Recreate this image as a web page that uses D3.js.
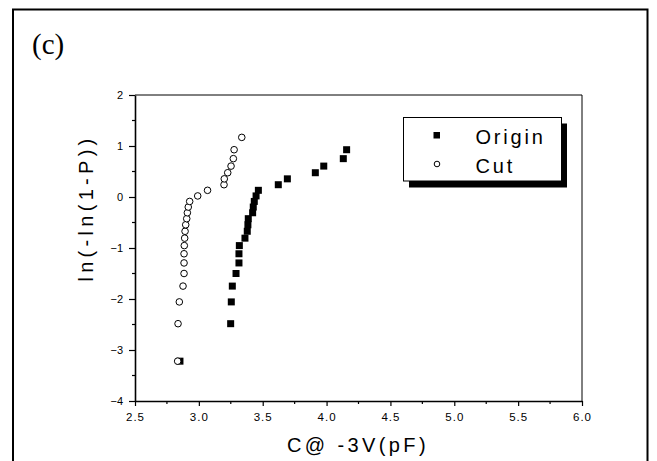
<!DOCTYPE html>
<html>
<head>
<meta charset="utf-8">
<script src="https://cdn.jsdelivr.net/npm/d3@7"></script>
<style>
  html, body { margin: 0; padding: 0; background: #fff; }
  svg { display: block; }
</style>
</head>
<body>
<svg id="chart" width="657" height="461"></svg>
<script>
// Weibull plot of capacitance at -3 V: ln(-ln(1-P)) versus C (pF)
const xTicks = [2.5, 3.0, 3.5, 4.0, 4.5, 5.0, 5.5, 6.0];
const yTicks = [-4, -3, -2, -1, 0, 1, 2];

// Origin samples (filled squares)
const originC = [2.852, 3.249, 3.254, 3.262, 3.291, 3.314, 3.314, 3.317, 3.361, 3.379,
                 3.384, 3.387, 3.421, 3.426, 3.434, 3.448, 3.466, 3.622, 3.693, 3.912,
                 3.978, 4.131, 4.157];
const originW = [-3.219, -2.484, -2.057, -1.747, -1.500, -1.293, -1.113, -0.953, -0.807, -0.672,
                 -0.545, -0.425, -0.309, -0.197, -0.087, 0.021, 0.131, 0.241, 0.356, 0.476,
                 0.606, 0.752, 0.927];

// Cut samples (open circles)
const cutC = [2.834, 2.837, 2.847, 2.876, 2.884, 2.884, 2.884, 2.886, 2.889, 2.892,
              2.897, 2.905, 2.910, 2.917, 2.928, 2.991, 3.068, 3.197, 3.199, 3.226,
              3.252, 3.270, 3.276, 3.336];
const cutW = [-3.219, -2.484, -2.057, -1.747, -1.500, -1.293, -1.113, -0.953, -0.807, -0.672,
              -0.545, -0.425, -0.309, -0.197, -0.087, 0.021, 0.131, 0.241, 0.356, 0.476,
              0.606, 0.752, 0.927, 1.169];

const seriesNames = ["Origin", "Cut"];

const svg = d3.select("#chart");
const plotL = 135, plotR = 582, plotT = 95, plotB = 401;

const x = d3.scaleLinear().domain([2.5, 6.0]).range([plotL, plotR]);
const y = d3.scaleLinear().domain([-4, 2]).range([plotB, plotT]);

// outer panel border
svg.append("rect")
  .attr("x", 13).attr("y", 9.5)
  .attr("width", 634.5).attr("height", 470)
  .attr("fill", "none").attr("stroke", "#000").attr("stroke-width", 2);

// panel tag
svg.append("text")
  .attr("x", 32).attr("y", 54)
  .attr("font-family", "'Liberation Serif', 'Times New Roman', serif")
  .attr("font-size", 29)
  .attr("fill", "#000")
  .text("(c)");

// plot frame (top and right)
svg.append("line").attr("x1", plotL).attr("x2", plotR).attr("y1", plotT).attr("y2", plotT)
  .attr("stroke", "#000").attr("stroke-width", 1);
svg.append("line").attr("x1", plotR).attr("x2", plotR).attr("y1", plotT).attr("y2", plotB)
  .attr("stroke", "#000").attr("stroke-width", 1);

const font = "'Liberation Sans', Arial, sans-serif";

// x axis
const xMinor = d3.range(2.75, 6.0, 0.5);
const gx = svg.append("g").attr("transform", `translate(0,${plotB})`)
  .call(d3.axisBottom(x).tickValues(xTicks).tickFormat(d3.format(".1f"))
        .tickSize(5).tickSizeOuter(0).tickPadding(7));
gx.selectAll(".domain").attr("stroke-width", 1.6);
gx.selectAll(".tick line").attr("stroke-width", 1.2);
gx.selectAll("text").attr("font-family", font).attr("font-size", 11.5)
  .attr("letter-spacing", 1).attr("fill", "#000");
gx.selectAll(".minor").data(xMinor).enter().append("line")
  .attr("x1", d => x(d)).attr("x2", d => x(d))
  .attr("y1", 0).attr("y2", 3)
  .attr("stroke", "#000").attr("stroke-width", 1.2);

// y axis
const yMinor = d3.range(-3.5, 2, 1);
const gy = svg.append("g").attr("transform", `translate(${plotL},0)`)
  .call(d3.axisLeft(y).tickValues(yTicks).tickFormat(d3.format("d"))
        .tickSize(6).tickSizeOuter(0).tickPadding(6));
gy.selectAll(".domain").attr("stroke-width", 1.6);
gy.selectAll(".tick line").attr("stroke-width", 1.2);
gy.selectAll("text").attr("font-family", font).attr("font-size", 11).attr("fill", "#000");
gy.selectAll(".minor").data(yMinor).enter().append("line")
  .attr("x1", 0).attr("x2", -3)
  .attr("y1", d => y(d)).attr("y2", d => y(d))
  .attr("stroke", "#000").attr("stroke-width", 1.2);

// axis titles
svg.append("text")
  .attr("x", 358).attr("y", 452)
  .attr("text-anchor", "middle")
  .attr("font-family", font).attr("font-size", 20)
  .attr("letter-spacing", 3.4)
  .attr("fill", "#000")
  .text("C@ -3V(pF)");

svg.append("text")
  .attr("transform", "translate(93,208) rotate(-90)")
  .attr("text-anchor", "middle")
  .attr("font-family", font).attr("font-size", 20)
  .attr("letter-spacing", 4.3)
  .attr("fill", "#000")
  .text("ln(-ln(1-P))");

// data: squares first, circles on top
const sq = 7;
const originPts = originC.map((c, i) => ({ c, w: originW[i] }));
const cutPts = cutC.map((c, i) => ({ c, w: cutW[i] }));

svg.append("g").selectAll("rect").data(originPts).enter().append("rect")
  .attr("x", d => x(d.c) - sq / 2).attr("y", d => y(d.w) - sq / 2)
  .attr("width", sq).attr("height", sq)
  .attr("fill", "#000");

svg.append("g").selectAll("circle").data(cutPts).enter().append("circle")
  .attr("cx", d => x(d.c)).attr("cy", d => y(d.w))
  .attr("r", 3.3)
  .attr("fill", "#fff").attr("stroke", "#000").attr("stroke-width", 1);

// legend with drop shadow
const lg = svg.append("g");
lg.append("rect").attr("x", 409).attr("y", 123.5).attr("width", 158).attr("height", 64)
  .attr("fill", "#000");
lg.append("rect").attr("x", 403.5).attr("y", 117.5).attr("width", 158).attr("height", 63.5)
  .attr("fill", "#fff").attr("stroke", "#000").attr("stroke-width", 1);
lg.append("rect").attr("x", 433.5).attr("y", 132).attr("width", 6.5).attr("height", 6.5)
  .attr("fill", "#000");
lg.append("circle").attr("cx", 437).attr("cy", 164).attr("r", 2.8)
  .attr("fill", "#fff").attr("stroke", "#000").attr("stroke-width", 1);
lg.selectAll("text.lab").data(seriesNames).enter().append("text")
  .attr("x", 475.5).attr("y", (d, i) => 144 + i * 28.5)
  .attr("font-family", font).attr("font-size", 20)
  .attr("letter-spacing", 2.8)
  .attr("fill", "#000")
  .text(d => d);
</script>
</body>
</html>
